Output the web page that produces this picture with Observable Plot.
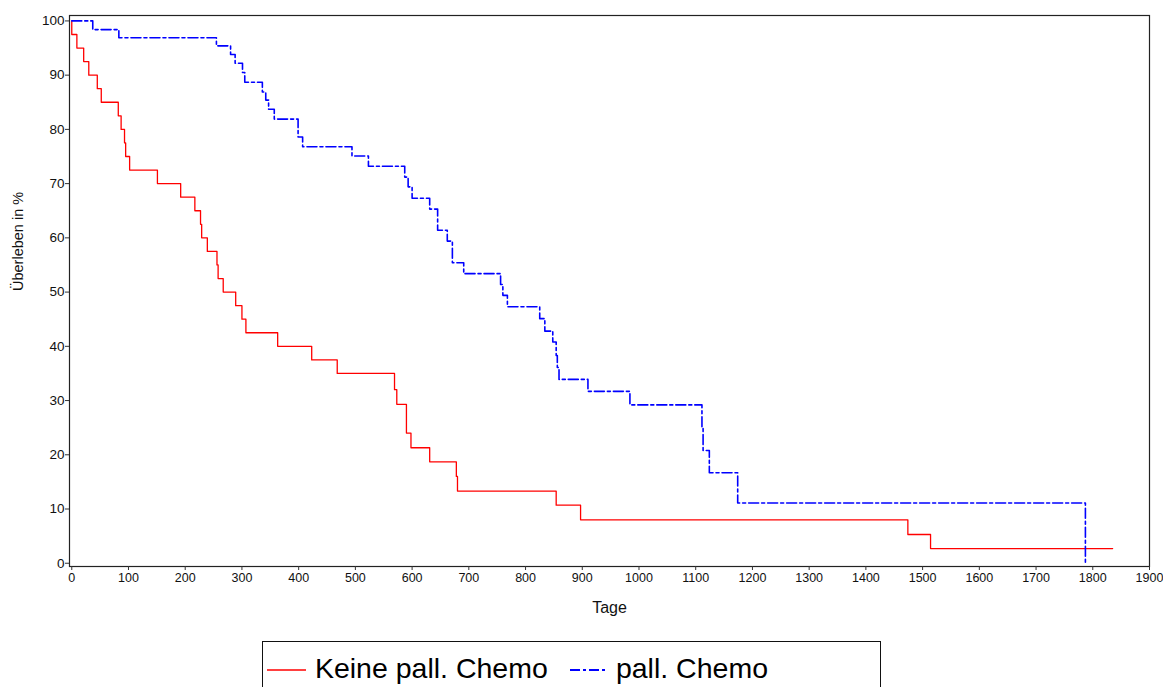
<!DOCTYPE html>
<html>
<head>
<meta charset="utf-8">
<script src="https://cdn.jsdelivr.net/npm/d3@7"></script>
<script src="https://cdn.jsdelivr.net/npm/@observablehq/plot@0.6"></script>
<style>
  html, body { margin: 0; padding: 0; background: #fff; overflow: hidden; }
  body { width: 1163px; height: 687px; position: relative; font-family: "Liberation Sans", Arial, sans-serif; }
  #chart { position: absolute; left: 0; top: 0; }
  #legend { position: absolute; left: 262px; top: 641px; width: 619px; height: 70px; border: 1.5px solid #111; box-sizing: border-box; }
  .item { position: absolute; top: 9px; font-size: 28.5px; color: #000; white-space: nowrap; line-height: 34px; }
  .item svg { vertical-align: middle; }
</style>
</head>
<body>
<div id="chart"></div>
<div id="legend"></div>
<script>
// Kaplan-Meier step data (days, survival %)
const seriesNames = ["Keine pall. Chemo", "pall. Chemo"];

const redDays = [0, 0, 9, 21, 30, 45, 52, 82, 87, 93, 95, 102, 151, 192, 217, 227, 229, 239, 256, 258, 267, 289, 300, 307, 363, 423, 468, 569, 573, 590, 598, 631, 678, 680, 854, 897, 1474, 1514, 1835];
const redSurv = [100, 97.5, 95, 92.5, 90, 87.5, 85, 82.5, 80, 77.5, 75, 72.5, 70, 67.5, 65, 62.5, 60, 57.5, 55, 52.5, 50, 47.5, 45, 42.5, 40, 37.5, 35, 32, 29.3, 24, 21.3, 18.7, 16, 13.3, 10.7, 8, 5.3, 2.7, 2.7];

const blueDays = [0, 37, 83, 255, 280, 288, 301, 305, 336, 342, 347, 357, 399, 407, 494, 523, 587, 593, 600, 631, 645, 662, 671, 691, 756, 760, 768, 825, 834, 848, 854, 856, 859, 910, 984, 1111, 1113, 1124, 1174, 1787, 1787];
const blueSurv = [100, 98.4, 96.9, 95.4, 93.8, 92.2, 90.5, 88.7, 86.9, 85.4, 83.7, 81.9, 78.6, 76.8, 75.1, 73.2, 71.2, 69.4, 67.3, 65.3, 61.4, 59.4, 55.4, 53.4, 51.4, 49.4, 47.3, 45.1, 42.8, 40.8, 38.3, 36.1, 33.9, 31.7, 29.2, 25, 20.8, 16.7, 11.1, 11.1, 0];

const xTicks = d3.range(0, 1901, 100);
const yTicks = d3.range(0, 101, 10);

const red = redDays.map((d, i) => ({t: d, s: redSurv[i], g: seriesNames[0]}));
const blue = blueDays.map((d, i) => ({t: d, s: blueSurv[i], g: seriesNames[1]}));

const chart = Plot.plot({
  width: 1163,
  height: 640,
  marginLeft: 69,
  marginRight: 14,
  marginTop: 15,
  marginBottom: 74,
  style: {fontFamily: '"Liberation Sans", Arial, sans-serif', fontSize: "13px", color: "#111", background: "#fff"},
  x: {domain: [-4, 1900], ticks: xTicks, tickSize: 4, tickPadding: 3, label: null},
  y: {domain: [-0.6, 101], ticks: yTicks, tickSize: 4, tickPadding: 1, label: null},
  marks: [
    Plot.frame({stroke: "#222", strokeWidth: 1.2}),
    Plot.axisX({ticks: xTicks, tickFormat: d => String(d), tickSize: 4, tickPadding: 3, fontSize: 12.5, label: null, stroke: "#333"}),
    Plot.axisY({ticks: yTicks, tickFormat: d => String(d), tickSize: 4, tickPadding: 1, fontSize: 13.5, label: null, stroke: "#333"}),
    Plot.line(red, {x: "t", y: "s", curve: "step-after", stroke: "#ff0000", strokeWidth: 1.3}),
    Plot.line(blue, {x: "t", y: "s", curve: "step-after", stroke: "#0000ff", strokeWidth: 1.6, strokeDasharray: "10,3,3,3"}),
    Plot.text(["Tage"], {frameAnchor: "bottom", dy: 46, fontSize: 16, fill: "#111"}),
    Plot.text(["Überleben in %"], {frameAnchor: "left", dx: -51, rotate: -90, fontSize: 14.5, fill: "#111", letterSpacing: "-0.7px"})
  ]
});
document.getElementById("chart").appendChild(chart);

// Legend
const legend = document.getElementById("legend");
legend.innerHTML =
  `<div class="item" style="left:4px"><svg width="40" height="6"><line x1="0" y1="3" x2="39" y2="3" stroke="#ff0000" stroke-width="1.5"/></svg> <span>${seriesNames[0]}</span></div>` +
  `<div class="item" style="left:307px"><svg width="38" height="6"><line x1="0" y1="3" x2="37" y2="3" stroke="#0000ff" stroke-width="1.8" stroke-dasharray="10,3,3,3"/></svg> <span>${seriesNames[1]}</span></div>`;
</script>
</body>
</html>
